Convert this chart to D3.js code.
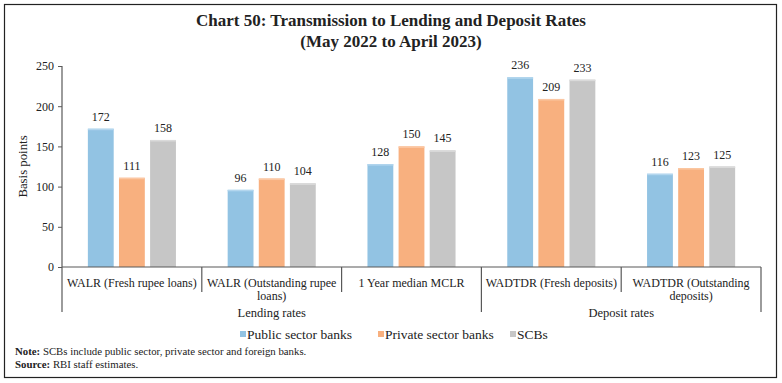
<!DOCTYPE html>
<html>
<head>
<meta charset="utf-8">
<script src="https://cdn.jsdelivr.net/npm/d3@7"></script>
<style>
  body { margin: 0; background: #fff; }
  svg { display: block; font-family: "Liberation Serif", "DejaVu Serif", serif; }
</style>
</head>
<body>
<svg id="chart"></svg>
<script>
// 数据
const categories = ["WALR (Fresh rupee loans)", "WALR (Outstanding rupee loans)", "1 Year median MCLR", "WADTDR (Fresh deposits)", "WADTDR (Outstanding deposits)"];
const categoryLines = [["WALR (Fresh rupee loans)"], ["WALR (Outstanding rupee", "loans)"], ["1 Year median MCLR"], ["WADTDR (Fresh deposits)"], ["WADTDR (Outstanding", "deposits)"]];
const groups = ["Lending rates", "Deposit rates"];
const groupSpans = [[0, 2], [3, 4]];
const seriesNames = ["Public sector banks", "Private sector banks", "SCBs"];
const publicBanks = [172, 96, 128, 236, 116];
const privateBanks = [111, 110, 150, 209, 123];
const scbs = [158, 104, 145, 233, 125];
const yTicks = [0, 50, 100, 150, 200, 250];

const colors = ["#92c3e3", "#f8b07f", "#c6c6c6"];
const topColors = ["#b3d6ee", "#fbc7a3", "#dadada"];
const seriesValues = [publicBanks, privateBanks, scbs];

const W = 782, H = 383;
const svg = d3.select("#chart").attr("width", W).attr("height", H);

// 外框
svg.append("rect")
  .attr("x", 4.5).attr("y", 4.5).attr("width", 772).attr("height", 373)
  .attr("fill", "none").attr("stroke", "#222").attr("stroke-width", 1.2);

// 标题
svg.append("text").attr("x", 391).attr("y", 26).attr("text-anchor", "middle")
  .style("font-size", "17px").style("font-weight", "bold").attr("fill", "#222")
  .text("Chart 50: Transmission to Lending and Deposit Rates");
svg.append("text").attr("x", 391).attr("y", 47).attr("text-anchor", "middle")
  .style("font-size", "17px").style("font-weight", "bold").attr("fill", "#222")
  .text("(May 2022 to April 2023)");

const plotLeft = 62, plotRight = 761, plotTop = 66, plotBottom = 267;

const x0 = d3.scaleBand().domain(categories).range([plotLeft, plotRight]).padding(0);
const bw = x0.bandwidth();
const x1 = d3.scaleBand().domain(seriesNames)
  .range([bw * 0.185, bw * 0.815]).paddingInner(0.17);
const y = d3.scaleLinear().domain([0, 250]).range([plotBottom, plotTop]);

// y轴
const yAxis = svg.append("g")
  .attr("transform", `translate(${plotLeft},0)`)
  .call(d3.axisLeft(y).tickValues(yTicks).tickSize(4).tickPadding(4));
yAxis.select(".domain").remove();
yAxis.selectAll(".tick line").attr("stroke", "#595959");
yAxis.selectAll(".tick text").attr("fill", "#222")
  .style("font-size", "12px").style("font-family", "Liberation Serif, serif");

svg.append("line").attr("x1", plotLeft).attr("x2", plotLeft).attr("y1", plotTop).attr("y2", 312)
  .attr("stroke", "#595959").attr("stroke-width", 1.2);

svg.append("text")
  .attr("transform", `translate(23,${(plotTop + plotBottom) / 2}) rotate(-90)`)
  .attr("text-anchor", "middle").attr("dy", "0.35em")
  .style("font-size", "12.8px").attr("fill", "#222")
  .text("Basis points");

// 柱
const rows = categories.map((c, i) => ({ cat: c, vals: seriesValues.map((s, j) => ({ name: seriesNames[j], v: s[i], j: j })) }));
const g = svg.selectAll(".cat").data(rows).enter().append("g")
  .attr("class", "cat").attr("transform", d => `translate(${x0(d.cat)},0)`);

g.selectAll("rect.bar").data(d => d.vals).enter().append("rect")
  .attr("class", "bar")
  .attr("x", d => x1(d.name)).attr("width", x1.bandwidth())
  .attr("y", d => y(d.v)).attr("height", d => y(0) - y(d.v))
  .attr("fill", d => colors[d.j]);

g.selectAll("rect.cap").data(d => d.vals).enter().append("rect")
  .attr("class", "cap")
  .attr("x", d => x1(d.name)).attr("width", x1.bandwidth())
  .attr("y", d => y(d.v)).attr("height", 1.5)
  .attr("fill", d => topColors[d.j]);

g.selectAll("text.val").data(d => d.vals).enter().append("text")
  .attr("class", "val")
  .attr("x", d => x1(d.name) + x1.bandwidth() / 2)
  .attr("y", d => y(d.v) - 8)
  .attr("text-anchor", "middle")
  .style("font-size", "12px").attr("fill", "#222")
  .text(d => d.v);

// x轴基线
svg.append("line").attr("x1", plotLeft).attr("x2", plotRight).attr("y1", plotBottom).attr("y2", plotBottom)
  .attr("stroke", "#595959").attr("stroke-width", 1.2);

// 类别分隔线
categories.forEach((c, i) => {
  const xr = x0(c) + bw;
  const isGroupEnd = groupSpans.some(s => s[1] === i);
  svg.append("line").attr("x1", xr).attr("x2", xr)
    .attr("y1", plotBottom).attr("y2", isGroupEnd ? 312 : 292)
    .attr("stroke", "#595959").attr("stroke-width", 1.2);
});

// 类别标签
categories.forEach((c, i) => {
  const t = svg.append("text").attr("x", x0(c) + bw / 2).attr("y", 287)
    .attr("text-anchor", "middle").style("font-size", "12px").attr("fill", "#222");
  categoryLines[i].forEach((ln, k) => {
    t.append("tspan").attr("x", x0(c) + bw / 2).attr("dy", k === 0 ? 0 : 12.5).text(ln);
  });
});

// 组标签
groups.forEach((gr, i) => {
  const a = x0(categories[groupSpans[i][0]]);
  const b = x0(categories[groupSpans[i][1]]) + bw;
  svg.append("text").attr("x", (a + b) / 2).attr("y", 317)
    .attr("text-anchor", "middle").style("font-size", "12.5px").attr("fill", "#222")
    .text(gr);
});

// 图例
const legendX = [240, 378, 510];
seriesNames.forEach((s, i) => {
  svg.append("rect").attr("x", legendX[i]).attr("y", 331).attr("width", 6).attr("height", 6)
    .attr("fill", colors[i]);
  svg.append("text").attr("x", legendX[i] + 7).attr("y", 338.5)
    .style("font-size", "13.5px").attr("fill", "#222").text(s);
});

// 注释
const note = svg.append("text").attr("x", 15).attr("y", 355).style("font-size", "10.8px").attr("fill", "#222");
note.append("tspan").style("font-weight", "bold").text("Note: ");
note.append("tspan").text("SCBs include public sector, private sector and foreign banks.");
const src = svg.append("text").attr("x", 15).attr("y", 368).style("font-size", "10.8px").attr("fill", "#222");
src.append("tspan").style("font-weight", "bold").text("Source: ");
src.append("tspan").text("RBI staff estimates.");
</script>
</body>
</html>
